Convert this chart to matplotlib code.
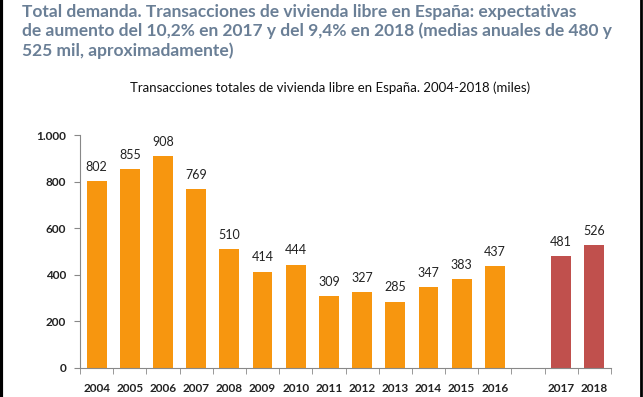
import matplotlib
matplotlib.use("Agg")
import matplotlib.pyplot as plt
from matplotlib.lines import Line2D

years_hist = ["2004", "2005", "2006", "2007", "2008", "2009", "2010", "2011",
              "2012", "2013", "2014", "2015", "2016"]
values_hist = [802, 855, 908, 769, 510, 414, 444, 309, 327, 285, 347, 383, 437]
years_fc = ["2017", "2018"]
values_fc = [481, 526]
yticks = [0, 200, 400, 600, 800, 1000]
ytick_labels = ["0", "200", "400", "600", "800", "1.000"]

title = ("Total demanda. Transacciones de vivienda libre en España: expectativas\n"
         "de aumento del 10,2% en 2017 y del 9,4% en 2018 (medias anuales de 480 y\n"
         "525 mil, aproximadamente)")
subtitle = "Transacciones totales de vivienda libre en España. 2004-2018 (miles)"

plt.rcParams['font.family'] = ['Lato', 'DejaVu Sans']

fig = plt.figure(figsize=(6.43, 3.97), dpi=100)
ax = fig.add_axes([80/643, 29/397, 531/643, 233/397])

orange = "#F7960F"
red = "#C0504D"
x_hist = list(range(len(years_hist)))
x_fc = [len(years_hist) + 1 + i for i in range(len(years_fc))]

ax.bar(x_hist, values_hist, width=0.6, color=orange)
ax.bar(x_fc, values_fc, width=0.6, color=red)
for x, v in zip(x_hist + x_fc, values_hist + values_fc):
    ax.text(x, v + 35, str(v), ha="center", va="bottom", fontsize=9, color="#222222")

n_slots = len(years_hist) + 1 + len(years_fc)
ax.set_xlim(-0.5, n_slots - 0.5)
ax.set_ylim(0, 1000)
ax.set_yticks(yticks)
ax.set_yticklabels(ytick_labels, fontsize=8.5, fontweight="bold", color="#222222")
ax.set_xticks(x_hist + x_fc)
ax.set_xticklabels(years_hist + years_fc, fontsize=8.5, fontweight="bold", color="#222222")
ax.tick_params(axis="x", length=0, pad=11)
ax.set_xticks([i - 0.5 for i in range(n_slots + 1)], minor=True)
ax.tick_params(axis="x", which="minor", length=4, direction="out", color="#888888")
ax.tick_params(axis="y", length=4, color="#888888", pad=6)
for s in ["top", "right"]:
    ax.spines[s].set_visible(False)
for s in ["left", "bottom"]:
    ax.spines[s].set_color("#888888")

fig.text(22/643, 1 - 4/397, title, ha="left", va="top", fontsize=12.5,
         fontweight="bold", color="#6A7F96", linespacing=1.2)
fig.text(330/643, 1 - 88/397, subtitle, ha="center", va="center", fontsize=9.5,
         color="#111111")

fig.add_artist(Line2D([1/643, 1/643], [0, 1], transform=fig.transFigure,
                      color="black", linewidth=3))
fig.add_artist(Line2D([640.5/643, 640.5/643], [0, 1], transform=fig.transFigure,
                      color="black", linewidth=2))

fig.savefig("out.png", dpi=100)
